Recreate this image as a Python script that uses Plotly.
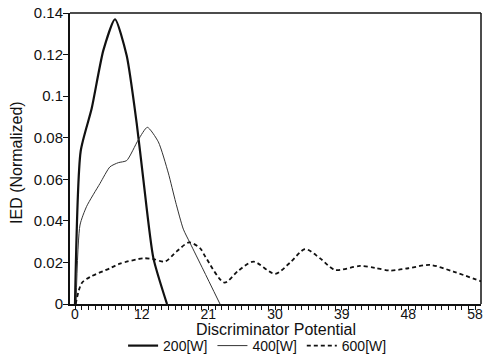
import plotly.graph_objects as go

# x positions are evenly spaced index units; labels are the printed tick values
tick_pos = [0, 10, 20, 30, 40, 50, 60]
tick_labels = ["0", "12", "21", "30", "39", "48", "58"]

y_ticks = [0, 0.02, 0.04, 0.06, 0.08, 0.1, 0.12, 0.14]
y_labels = ["0", "0.02", "0.04", "0.06", "0.08", "0.1", "0.12", "0.14"]

x_200 = [0, 0.85, 2.5, 4.25, 6.0, 7.75, 9.25, 10.25, 11.75, 13.8]
y_200 = [0, 0.0735, 0.094, 0.122, 0.137, 0.1195, 0.087, 0.060, 0.0222, 0]

x_400 = [0.15, 0.75, 1.75, 3.75, 5.25, 6.5, 7.75, 9.5, 10.85, 12.5, 14.0, 15.1, 16.25, 17.25, 19.25, 21.75]
y_400 = [0, 0.038, 0.047, 0.058, 0.066, 0.068, 0.069, 0.079, 0.085, 0.078, 0.063, 0.049, 0.036, 0.0294, 0.0164, 0.0]

x_600 = [0.1, 1.0, 2.25, 5.25, 6.75, 10.25, 11.75, 13.5, 15.25, 17.1, 18.75, 19.6, 22.4, 24.5, 26.75, 30, 32.3, 34.5, 36.75,
         39, 42.75, 45, 47.25, 50, 53.25, 56.75, 61]
y_600 = [0, 0.010, 0.013, 0.0172, 0.0194, 0.022, 0.0216, 0.0204, 0.0253, 0.0296, 0.0269, 0.0225, 0.0103, 0.016, 0.0204,
         0.0145, 0.020, 0.0264, 0.022, 0.0164, 0.0183, 0.0174, 0.0161, 0.0172, 0.0188, 0.0156, 0.0108]

fig = go.Figure()
fig.add_trace(go.Scatter(x=x_200, y=y_200, mode="lines", name="200[W]",
                         line=dict(color="#111", width=2.2, shape="spline", smoothing=0.6)))
fig.add_trace(go.Scatter(x=x_400, y=y_400, mode="lines", name="400[W]",
                         line=dict(color="#333", width=1, shape="spline", smoothing=0.6)))
fig.add_trace(go.Scatter(x=x_600, y=y_600, mode="lines", name="600[W]",
                         line=dict(color="#111", width=1.8, dash="4px,3px", shape="spline", smoothing=0.8)))

font = "Liberation Sans, Arial, sans-serif"
fig.update_layout(
    width=486, height=362,
    margin=dict(l=70, r=5, t=13, b=58, autoexpand=False),
    paper_bgcolor="white", plot_bgcolor="white",
    font=dict(family=font, color="#111", size=15),
    showlegend=True,
    legend=dict(orientation="h", x=0.53, xref="container", xanchor="center",
                y=0.0, yref="container", yanchor="bottom",
                font=dict(size=14), itemwidth=30, tracegroupgap=0, bgcolor="rgba(0,0,0,0)"),
)
fig.update_xaxes(
    range=[-0.75, 60.9], showgrid=False, zeroline=False, automargin=False,
    showline=True, linecolor="#111", linewidth=2,
    tickmode="array", tickvals=tick_pos, ticktext=tick_labels,
    ticks="outside", ticklen=4, tickwidth=1, tickcolor="#111",
    minor=dict(ticks="outside", tickmode="linear", tick0=0, dtick=1, ticklen=4, tickwidth=1, tickcolor="#111"),
    tickfont=dict(size=14), ticklabelstandoff=-8,
)
fig.update_yaxes(
    range=[0, 0.14], showgrid=False, zeroline=False, automargin=False,
    showline=True, linecolor="#111", linewidth=2,
    tickmode="array", tickvals=y_ticks, ticktext=y_labels,
    ticks="outside", ticklen=5, tickwidth=1, tickcolor="#111",
    tickfont=dict(size=15), ticklabelstandoff=-3,
)
fig.add_annotation(text="Discriminator Potential", xref="paper", yref="paper", x=0.5, y=-25 / 291,
                   xanchor="center", yanchor="middle", showarrow=False, font=dict(size=16))
fig.add_annotation(text="IED (Normalized)", xref="paper", yref="paper", x=-53 / 411, y=0.488,
                   xanchor="center", yanchor="middle", textangle=-90, showarrow=False, font=dict(size=16))
# top and right frame lines
fig.add_shape(type="line", xref="paper", yref="paper", x0=0, x1=1, y0=1, y1=1, line=dict(color="#111", width=1.5))
fig.add_shape(type="line", xref="paper", yref="paper", x0=1, x1=1, y0=0, y1=1, line=dict(color="#111", width=1.5))

fig.write_html("out.html")
